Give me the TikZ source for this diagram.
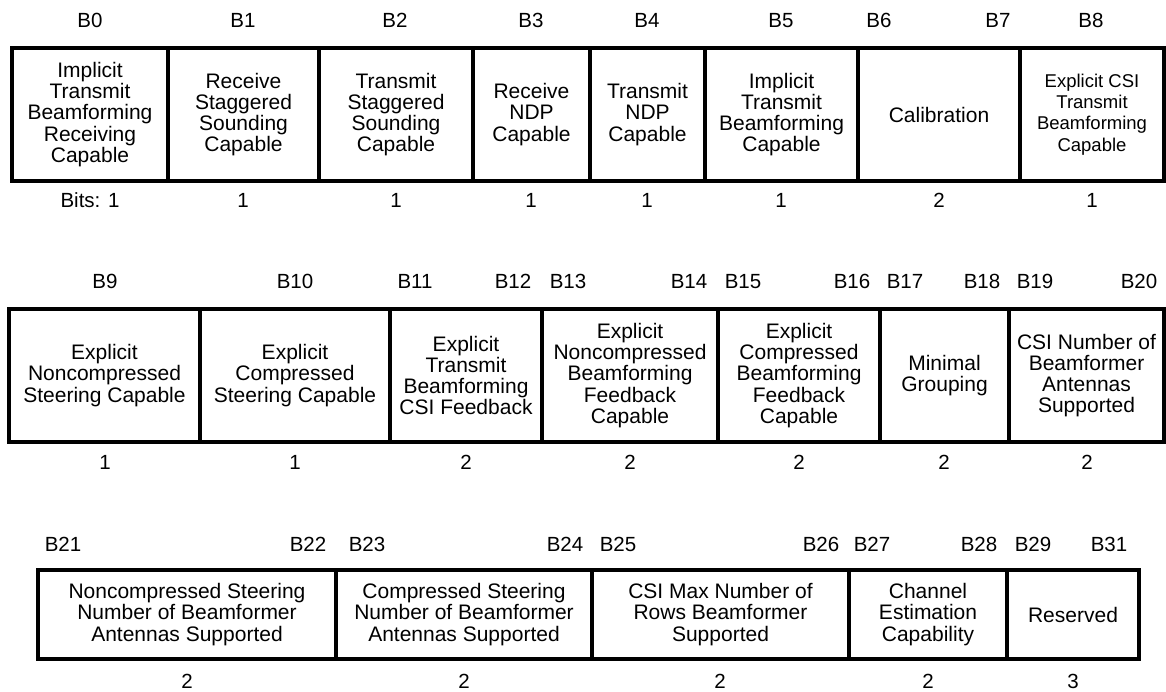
\documentclass[tikz,border=0pt]{standalone}
\usepackage{fontspec}
\setmainfont{Liberation Sans}
\tikzset{
  fieldbox/.style={draw=black, line width=3.6pt, inner sep=0pt, outer sep=0pt,
    align=center, font=\fontsize{21}{21.2}\selectfont},
  smalltext/.style={font=\fontsize{18.5}{21.2}\selectfont},
  bitlabel/.style={inner sep=0pt, anchor=base, font=\fontsize{20.5}{22}\selectfont},
  widthlabel/.style={inner sep=0pt, anchor=base, font=\fontsize{20.5}{22}\selectfont}
}
\newcommand\fld[7][]{\node[fieldbox,#1, minimum width={#4-#3}, minimum height={#6-#5}] (#2) at ({(#3+#4)/2},{(#5+#6)/2}) {#7};}
\newcommand\blab[3]{\node[bitlabel] (#1) at (#2,#3) {#1};}
\newcommand\wlab[4]{\node[widthlabel] (#1) at (#2,#3) {#4};}
\begin{document}
\begin{tikzpicture}[x=1pt,y=-1pt]
\useasboundingbox (0,0) rectangle (1166,691);
% ---------- Row 1 ----------
\fld{fA}{12}{168}{48}{181}{Implicit\\Transmit\\Beamforming\\Receiving\\Capable}
\fld{fB}{168}{319}{48}{181}{Receive\\Staggered\\Sounding\\Capable}
\fld{fC}{319}{473}{48}{181}{Transmit\\Staggered\\Sounding\\Capable}
\fld{fD}{473}{590}{48}{181}{Receive\\NDP\\Capable}
\fld{fE}{590}{705}{48}{181}{Transmit\\NDP\\Capable}
\fld{fF}{705}{858}{48}{181}{Implicit\\Transmit\\Beamforming\\Capable}
\fld{fG}{858}{1020}{48}{181}{Calibration}
\fld[smalltext]{fH}{1020}{1164}{48}{181}{Explicit CSI\\Transmit\\Beamforming\\Capable}
\blab{B0}{90}{27.3}
\blab{B1}{243}{27.3}
\blab{B2}{395}{27.3}
\blab{B3}{531}{27.3}
\blab{B4}{647}{27.3}
\blab{B5}{781}{27.3}
\blab{B6}{879}{27.3}
\blab{B7}{998}{27.3}
\blab{B8}{1091}{27.3}
\wlab{wA}{90}{207.3}{Bits: 1}
\wlab{wB}{243}{207.3}{1}
\wlab{wC}{396}{207.3}{1}
\wlab{wD}{531}{207.3}{1}
\wlab{wE}{647}{207.3}{1}
\wlab{wF}{781}{207.3}{1}
\wlab{wG}{939}{207.3}{2}
\wlab{wH}{1092}{207.3}{1}
% ---------- Row 2 ----------
\fld{fI}{9}{200}{309}{442}{Explicit\\Noncompressed\\Steering Capable}
\fld{fJ}{200}{390}{309}{442}{Explicit\\Compressed\\Steering Capable}
\fld{fK}{390}{542}{309}{442}{Explicit\\Transmit\\Beamforming\\CSI Feedback}
\fld{fL}{542}{718}{309}{442}{Explicit\\Noncompressed\\Beamforming\\Feedback\\Capable}
\fld{fM}{718}{880}{309}{442}{Explicit\\Compressed\\Beamforming\\Feedback\\Capable}
\fld{fN}{880}{1009}{309}{442}{Minimal\\Grouping}
\fld{fO}{1009}{1164}{309}{442}{CSI Number of\\Beamformer\\Antennas\\Supported}
\blab{B9}{105}{288.3}
\blab{B10}{295}{288.3}
\blab{B11}{415}{288.3}
\blab{B12}{513}{288.3}
\blab{B13}{568}{288.3}
\blab{B14}{689}{288.3}
\blab{B15}{743}{288.3}
\blab{B16}{852}{288.3}
\blab{B17}{905}{288.3}
\blab{B18}{982}{288.3}
\blab{B19}{1035}{288.3}
\blab{B20}{1139}{288.3}
\wlab{wI}{105}{469.3}{1}
\wlab{wJ}{295}{469.3}{1}
\wlab{wK}{466}{469.3}{2}
\wlab{wL}{630}{469.3}{2}
\wlab{wM}{799}{469.3}{2}
\wlab{wN}{944}{469.3}{2}
\wlab{wO}{1087}{469.3}{2}
% ---------- Row 3 ----------
\fld{fP}{38}{336}{570}{659}{Noncompressed Steering\\Number of Beamformer\\Antennas Supported}
\fld{fQ}{336}{592}{570}{659}{Compressed Steering\\Number of Beamformer\\Antennas Supported}
\fld{fR}{592}{849}{570}{659}{CSI Max Number of\\Rows Beamformer\\Supported}
\fld{fS}{849}{1007}{570}{659}{Channel\\Estimation\\Capability}
\fld{fT}{1007}{1139}{570}{659}{Reserved}
\blab{B21}{63}{551.3}
\blab{B22}{308}{551.3}
\blab{B23}{367}{551.3}
\blab{B24}{565}{551.3}
\blab{B25}{618}{551.3}
\blab{B26}{821}{551.3}
\blab{B27}{872}{551.3}
\blab{B28}{979}{551.3}
\blab{B29}{1033}{551.3}
\blab{B31}{1109}{551.3}
\wlab{wP}{187}{688}{2}
\wlab{wQ}{464}{688}{2}
\wlab{wR}{720}{688}{2}
\wlab{wS}{928}{688}{2}
\wlab{wT}{1073}{688}{3}
\end{tikzpicture}
\end{document}
